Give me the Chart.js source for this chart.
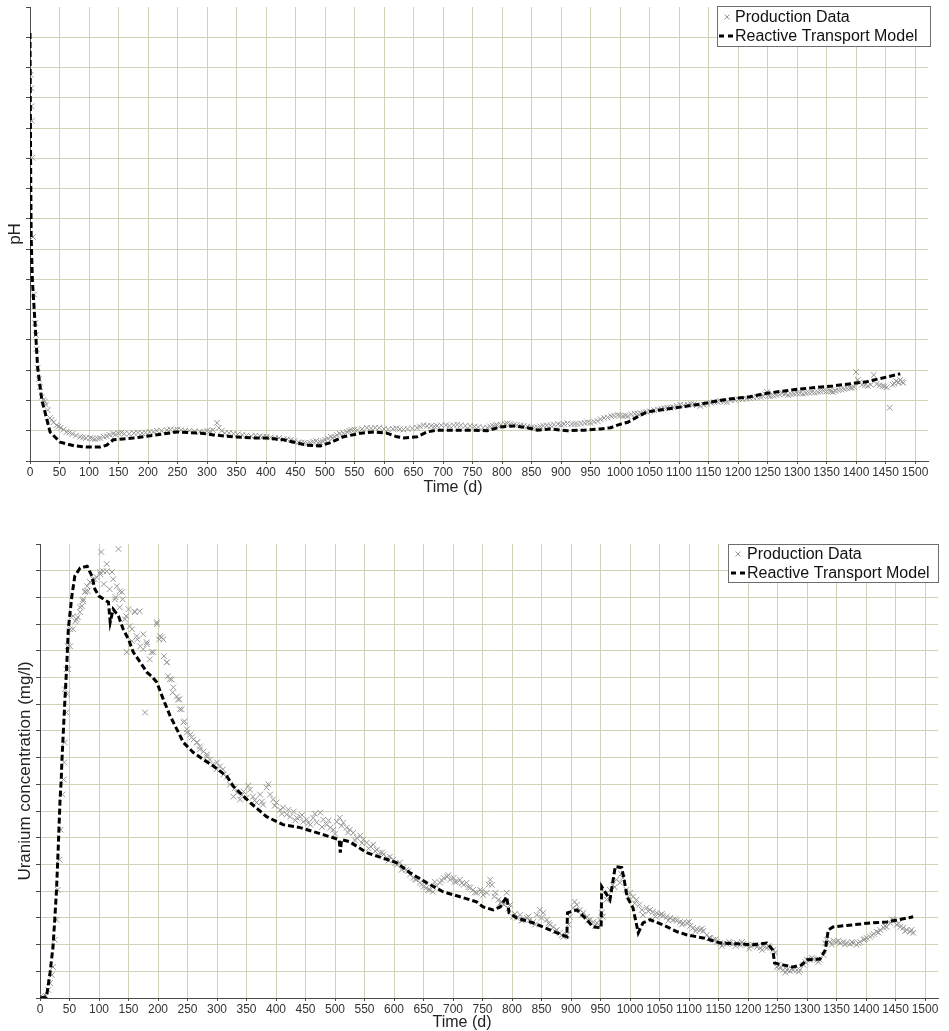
<!DOCTYPE html>
<html><head><meta charset="utf-8">
<script src="https://cdn.jsdelivr.net/npm/chart.js@4.4.1/dist/chart.umd.min.js"></script>
<style>body{margin:0;background:#fff;} canvas{display:block;}</style>
</head><body>
<canvas id="ph" width="949" height="500"></canvas>
<canvas id="u" width="949" height="531"></canvas>
<script>
// ---------- pH chart data ----------
const phModelTime = [0,1,2,4,8.5,13,20,34,51,75,97,119,130,141,175,198,249,290,311,345,379,401,430,469,492,508,531,561,583,605,622,634,656,673,690,718,746,775,797,820,843,860,882,911,939,967,984,1001,1013,1045,1102,1136,1181,1220,1249,1305,1361,1418,1475];
const phModelValue = [8.07,5.97,4.70,3.99,3.28,2.54,2.01,1.48,1.31,1.25,1.23,1.23,1.26,1.35,1.38,1.41,1.48,1.46,1.43,1.40,1.38,1.38,1.35,1.26,1.25,1.30,1.40,1.46,1.48,1.46,1.40,1.38,1.40,1.48,1.51,1.51,1.51,1.50,1.56,1.58,1.55,1.51,1.53,1.50,1.51,1.53,1.55,1.61,1.64,1.81,1.89,1.94,2.02,2.06,2.12,2.19,2.24,2.31,2.44];
const phDataTime = [1,2,2.5,3,4,5,9,10,13,17,20,23,27,30,34,40,45,52,62,72,85,95,102,110,119,130,141,150,160,176,190,203,215,232,245,256,270,288,300,310,317,320,330,345,360,375,390,401,415,430,442,455,465,475,485,492,500,510,516,525,537,545,555,571,585,600,615,627,640,656,667,680,690,705,718,730,746,760,775,785,792,805,814,825,837,850,860,870,882,895,905,918,928,940,950,962,973,985,996,1005,1013,1025,1035,1045,1058,1070,1080,1090,1102,1115,1125,1136,1148,1160,1170,1181,1195,1208,1220,1232,1243,1249,1255,1265,1275,1285,1295,1305,1315,1325,1335,1345,1355,1361,1370,1380,1390,1397,1400,1403,1410,1420,1430,1435,1445,1452,1457,1462,1468,1475,1480];
const phDataValue = [7.38,7.16,6.86,6.62,6.01,4.70,3.28,3.08,2.54,2.22,2.06,2.01,1.93,1.84,1.71,1.64,1.59,1.55,1.48,1.45,1.40,1.38,1.38,1.36,1.38,1.41,1.45,1.46,1.45,1.46,1.46,1.48,1.50,1.51,1.51,1.51,1.50,1.48,1.50,1.51,1.63,1.55,1.46,1.45,1.43,1.41,1.41,1.40,1.38,1.36,1.35,1.31,1.30,1.30,1.33,1.31,1.35,1.40,1.40,1.45,1.48,1.51,1.51,1.55,1.55,1.53,1.53,1.53,1.53,1.55,1.59,1.58,1.58,1.59,1.59,1.59,1.58,1.56,1.55,1.58,1.59,1.61,1.61,1.59,1.58,1.56,1.55,1.58,1.59,1.61,1.61,1.61,1.61,1.63,1.63,1.66,1.71,1.74,1.76,1.74,1.74,1.78,1.79,1.81,1.84,1.86,1.88,1.89,1.93,1.93,1.94,1.91,1.94,1.97,1.99,1.97,2.01,2.02,2.04,2.06,2.07,2.14,2.07,2.09,2.12,2.09,2.11,2.12,2.12,2.14,2.14,2.16,2.16,2.14,2.17,2.19,2.21,2.22,2.47,2.34,2.26,2.24,2.42,2.27,2.24,2.22,1.88,2.26,2.32,2.34,2.29];
// second reading pass across the production-data band
const phDataTimeB = [7,11,15,25,37,48,57,67,78,90,106,115,125,135,145,155,168,183,196,209,223,238,250,263,279,294,305,325,337,352,367,382,395,408,422,436,448,460,470,480,488,496,505,513,520,531,541,550,563,578,592,607,621,633,648,661,673,685,697,711,724,738,753,768,780,789,798,809,820,831,843,855,865,876,888,900,911,923,934,945,956,967,979,990,1000,1009,1019,1030,1040,1051,1064,1075,1085,1096,1108,1120,1130,1142,1154,1165,1176,1188,1201,1214,1226,1238,1246,1252,1260,1270,1280,1290,1300,1310,1320,1330,1340,1350,1358,1365,1375,1385,1393,1406,1415,1425,1440,1448,1465,1472,1478];
const phDataValueB = [3.75,2.85,2.35,1.98,1.68,1.57,1.52,1.47,1.42,1.39,1.37,1.37,1.40,1.43,1.44,1.47,1.45,1.47,1.47,1.48,1.50,1.52,1.52,1.50,1.49,1.48,1.49,1.50,1.46,1.44,1.42,1.42,1.40,1.39,1.38,1.36,1.33,1.30,1.29,1.32,1.30,1.33,1.37,1.38,1.43,1.46,1.50,1.52,1.53,1.54,1.55,1.52,1.54,1.52,1.54,1.57,1.58,1.57,1.59,1.58,1.60,1.58,1.57,1.55,1.57,1.59,1.60,1.62,1.60,1.59,1.57,1.55,1.57,1.59,1.60,1.60,1.62,1.61,1.62,1.64,1.65,1.69,1.72,1.75,1.75,1.75,1.77,1.78,1.80,1.82,1.85,1.87,1.88,1.91,1.92,1.94,1.92,1.93,1.96,1.98,1.98,2.00,2.02,2.03,2.05,2.06,2.10,2.08,2.08,2.10,2.11,2.10,2.12,2.11,2.13,2.13,2.15,2.15,2.15,2.16,2.18,2.20,2.21,2.30,2.25,2.26,2.25,2.23,2.28,2.30,2.31];

// ---------- Uranium chart data ----------
const uModelTime = [0,10,12,17,22,25,28,31,34,36,37,42,45,48,54,59,68,80,88,93,100,108,116,119,124,133,141,150,158,170,181,189,198,209,221,232,243,260,277,295,317,328,356,384,412,441,469,497,507,509,511,525,554,604,627,655,683,712,740,751,768,780,791,795,808,836,864,893,894,910,927,937,951,952,966,975,986,990,995,1005,1014,1022,1034,1056,1080,1097,1124,1153,1181,1208,1232,1242,1245,1259,1276,1291,1300,1322,1331,1336,1344,1378,1407,1436,1480];
const uModelValue = [0,0.4,1.9,9.4,19.1,29.3,40.5,56.7,74.3,81.8,88.2,110.7,123.1,138.1,150.5,158.0,161.0,161.7,158.0,153.1,150.5,149.3,148.2,140.7,145.6,143.0,138.1,134.3,129.5,125.7,122.0,120.5,118.2,111.8,105.4,100.6,95.7,91.9,89.3,86.7,82.9,79.2,73.2,67.9,64.9,63.8,61.9,60.0,59.3,54.4,59.3,58.5,54.4,50.7,46.9,43.2,39.8,37.9,36.0,34.1,33.0,34.1,37.9,31.9,30.0,28.1,25.5,22.9,31.9,33.0,29.3,26.6,26.3,41.7,36.8,49.2,48.8,44.3,37.9,33.8,24.4,28.1,29.3,27.4,24.8,23.6,22.5,20.6,20.3,19.9,20.6,18.0,13.1,12.4,11.6,12.4,14.3,14.6,18.0,25.5,26.6,27.4,28.1,28.5,30.4];
const uDataTime = [0,5,10,14,17,20,22,25,28,30,33,35,38,40,41,42,45,46,48,51,56,60,64,68,73,77,80,85,90,96,102,104,108,113,118,124,128,133,135,140,146,150,156,160,165,170,175,178,181,186,192,198,202,206,210,215,220,226,232,236,240,245,249,255,260,266,271,277,283,288,293,299,305,311,317,322,328,334,339,345,350,356,361,367,373,378,384,390,395,401,407,412,418,424,430,435,441,446,452,458,463,469,475,480,486,492,497,503,508,514,520,525,531,537,543,548,554,560,565,571,576,582,588,593,599,605,610,616,621,627,633,638,644,650,655,661,666,672,678,684,690,695,701,706,712,718,723,729,734,740,746,751,757,763,766,772,777,780,786,791,797,802,808,814,819,825,830,836,842,847,853,859,864,870,876,881,887,893,898,904,910,915,921,927,932,938,944,949,954,960,966,971,977,983,988,994,1000,1005,1011,1016,1022,1028,1034,1039,1045,1051,1056,1062,1068,1073,1079,1085,1090,1096,1102,1107,1113,1119,1124,1130,1136,1141,1147,1153,1158,1164,1170,1175,1181,1187,1192,1198,1204,1209,1215,1221,1226,1232,1237,1243,1249,1254,1260,1266,1271,1277,1283,1288,1294,1300,1305,1311,1317,1322,1328,1333,1339,1345,1350,1356,1362,1367,1373,1378,1384,1390,1396,1401,1407,1413,1418,1424,1430,1435,1441,1446,1452,1458,1463,1469,1475,1480];
const uDataValue = [0.4,0.4,0.8,3.0,5.6,8.6,11.6,21.8,29.3,40.5,51.8,63.0,76.2,81.8,88.2,95.7,106.9,113.7,123.1,131.7,138.1,141.1,142.6,146.3,149.3,152.3,154.2,155.7,156.8,157.6,158.7,167.0,155.0,159.8,153.1,156.8,150.1,168.1,152.3,149.3,143.0,145.6,138.1,144.8,134.3,131.7,136.2,106.9,132.5,126.8,129.5,140.0,134.3,135.1,128.0,125.7,119.3,116.3,112.9,111.8,108.1,103.6,100.6,98.7,96.8,95.7,94.2,92.3,91.2,89.3,87.4,85.6,86.7,83.7,82.9,79.9,75.4,76.9,74.3,77.3,75.0,78.0,75.4,73.2,76.2,72.4,78.8,76.2,74.3,73.2,70.5,71.3,68.7,67.9,69.8,67.5,67.9,66.0,66.8,64.9,67.5,65.7,69.4,66.8,64.9,63.8,63.0,66.0,67.5,65.7,63.8,63.0,61.9,60.0,60.8,59.3,58.2,56.7,57.4,55.5,54.4,53.7,52.5,52.9,51.8,49.9,50.7,48.8,48.0,46.2,45.0,44.3,43.2,41.7,41.3,40.5,39.8,42.0,43.2,45.0,45.4,44.3,45.0,43.5,44.3,42.4,43.2,41.3,40.5,39.4,40.5,38.6,39.4,44.3,42.4,39.4,36.8,35.6,34.9,39.4,34.9,30.4,30.0,31.1,29.3,30.0,29.3,28.5,31.1,33.0,31.9,29.3,27.4,26.6,25.5,24.4,22.9,23.6,30.4,33.8,34.9,33.0,31.9,30.4,29.3,28.5,28.1,29.3,30.4,36.8,40.5,42.4,44.3,43.2,45.0,40.5,39.4,37.9,36.8,34.9,31.1,33.8,33.0,32.3,31.9,31.1,30.8,30.4,30.0,29.3,28.9,28.5,28.1,28.1,27.0,26.3,25.9,25.5,25.1,23.6,22.5,21.8,21.0,20.6,20.3,20.3,20.6,20.3,20.6,19.9,20.3,19.9,19.5,19.9,19.1,18.8,19.5,18.8,18.8,18.0,11.6,11.3,10.5,10.5,10.1,10.5,10.5,10.5,12.4,14.3,14.3,14.6,14.3,14.3,16.1,21.8,21.0,21.4,21.0,20.6,21.0,20.6,20.3,20.6,19.9,21.0,21.8,22.5,22.9,24.0,24.8,25.5,26.3,26.6,28.1,29.3,27.4,26.6,26.3,25.5,24.8,24.4];
// scattered readings around the peak
const uDataTimeB = [68,62,73,85,76,93,102,113,107,122,130,127,135,139,144,152,161,164,175,181,189,198,203,209,215,217,223,225,234,237,243,249,257,266,271,283,300,310,147,169,156,56,51,47,45,42,71,81];
const uDataValueB = [144.5,141.8,148.6,155.7,152.0,156.8,159.5,162.5,159.8,159.5,154.2,149.3,146.3,152.0,141.8,139.2,144.5,135.5,130.6,133.2,129.5,140.7,135.5,134.3,125.7,120.5,119.3,114.4,111.8,108.1,103.2,99.4,97.6,95.7,93.1,90.4,88.2,85.6,129.5,144.8,133.6,143.0,138.1,131.7,123.1,115.6,146.7,152.3];
// second reading pass across the tail of the band
const uDataTimeC = [330,342,353,364,376,387,398,410,421,433,444,455,466,478,489,500,511,522,534,546,557,568,580,591,602,613,624,636,647,658,669,681,692,703,715,726,737,749,760,770,783,794,805,816,828,839,850,862,873,884,896,906,918,929,941,952,963,974,985,997,1008,1020,1031,1043,1054,1065,1077,1088,1100,1111,1122,1134,1145,1156,1168,1179,1190,1202,1213,1224,1235,1246,1252,1263,1274,1286,1297,1308,1319,1331,1342,1353,1364,1376,1387,1398,1410,1421,1432,1444,1455,1466,1477];
const uDataValueC = [78.5,76.0,79.5,74.0,73.5,80.0,72.0,69.0,70.5,66.5,68.5,65.5,69.0,64.0,66.5,61.5,64.5,62.0,59.0,58.0,56.0,55.0,54.5,51.5,50.5,48.0,47.5,44.5,42.5,40.5,43.5,44.0,46.0,43.5,43.0,41.5,39.5,40.0,42.5,38.0,36.0,33.5,31.5,29.0,30.5,27.5,30.0,28.0,25.0,23.5,27.5,36.0,31.0,29.0,27.0,32.0,38.5,41.5,46.5,38.0,35.5,33.0,32.5,30.5,31.5,29.0,29.5,27.5,28.5,25.0,26.0,22.5,22.0,19.5,21.0,19.5,21.0,18.5,20.0,18.0,19.5,17.0,12.5,9.5,11.0,9.8,13.5,15.0,13.5,20.5,20.0,21.5,20.0,21.0,20.5,22.0,23.5,24.5,27.0,29.5,28.0,25.0,25.5];

const seriesLabels = ['Production Data', 'Reactive Transport Model'];
const timeTitle = 'Time (d)';

// ---------- styling ----------
const FONT = "'Liberation Sans', Arial, sans-serif";
const GRID = 'rgb(210,210,182)';
const AXIS = '#4a4a4a';
const DATA_COLOR = '#969696';

function pairs(ts, vs) { return ts.map((t, i) => ({x: t, y: vs[i]})); }

function boxLegend(L) {
  return {
    id: 'boxLegend',
    afterDraw(chart) {
      const ctx = chart.ctx;
      ctx.save();
      ctx.fillStyle = '#fff';
      ctx.fillRect(L.x, L.y, L.w, L.h);
      ctx.strokeStyle = '#6e6e6e';
      ctx.lineWidth = 1;
      ctx.strokeRect(L.x + 0.5, L.y + 0.5, L.w - 1, L.h - 1);
      ctx.strokeStyle = DATA_COLOR;
      ctx.beginPath();
      const r = 2.5, cx = L.marker, cy = L.row1;
      ctx.moveTo(cx - r, cy - r); ctx.lineTo(cx + r, cy + r);
      ctx.moveTo(cx - r, cy + r); ctx.lineTo(cx + r, cy - r);
      ctx.stroke();
      ctx.strokeStyle = '#000';
      ctx.lineWidth = 3;
      ctx.beginPath();
      ctx.moveTo(L.dashX0, L.row2); ctx.lineTo(L.dashX0 + 5, L.row2);
      ctx.moveTo(L.dashX0 + 9, L.row2); ctx.lineTo(L.dashX0 + 14, L.row2);
      ctx.stroke();
      ctx.fillStyle = '#111';
      ctx.font = '16px ' + FONT;
      ctx.textBaseline = 'middle';
      ctx.textAlign = 'left';
      const ds = chart.data.datasets;
      ctx.fillText(ds[1].label, L.textX, L.row1 + 1);
      ctx.fillText(ds[0].label, L.textX, L.row2 + 1);
      ctx.fillStyle = '#222';
      ctx.textAlign = 'center';
      ctx.fillText(timeTitle, L.xTitleX, L.xTitleY);
      ctx.restore();
    }
  };
}

function makeChart(id, c) {
  return new Chart(document.getElementById(id), {
    type: 'scatter',
    data: {
      datasets: [
        {
          label: seriesLabels[1],
          data: pairs(c.modelT, c.modelV),
          showLine: true,
          borderColor: '#000',
          borderWidth: 3,
          borderDash: [6, 3],
          pointRadius: 0,
          tension: 0,
          fill: false
        },
        {
          label: seriesLabels[0],
          data: c.dataSets.flatMap(([t, v]) => pairs(t, v)),
          showLine: false,
          pointStyle: 'crossRot',
          pointRadius: 4,
          borderColor: DATA_COLOR,
          backgroundColor: DATA_COLOR,
          borderWidth: 1
        }
      ]
    },
    options: {
      responsive: false,
      animation: false,
      devicePixelRatio: 1,
      layout: {padding: {top: c.padTop, right: c.padRight, left: 0, bottom: 0}},
      plugins: {legend: {display: false}, tooltip: {enabled: false}},
      scales: {
        x: {
          type: 'linear',
          min: 0, max: 1522,
          ticks: {
            stepSize: 50, autoSkip: false, includeBounds: false, maxRotation: 0,
            callback: (v) => String(v),
            font: {family: FONT, size: 12}, color: '#333', padding: 1
          },
          grid: {color: GRID, tickColor: AXIS, tickLength: 3, lineWidth: 1},
          border: {display: true, color: AXIS, width: 1},
          afterFit(s) { s.height = c.xHeight; s.paddingLeft = 0; s.paddingRight = 0; }
        },
        y: {
          type: 'linear',
          min: c.yMin, max: c.yMax,
          ticks: {stepSize: c.yStep, display: false},
          grid: {
            color: (ctx) => (ctx.tick && Math.abs(ctx.tick.value - c.yMax) < 1e-9) ? 'rgba(0,0,0,0)' : GRID,
            tickColor: AXIS, tickLength: 4, lineWidth: 1
          },
          border: {display: true, color: AXIS, width: 1},
          title: {display: true, text: c.yTitle, color: '#222', font: {family: FONT, size: 17}, padding: {top: c.yTitlePad, bottom: 0}},
          afterFit(s) { s.width = c.yWidth; s.paddingTop = 0; s.paddingBottom = 0; }
        }
      }
    },
    plugins: [boxLegend(c.legend)]
  });
}

makeChart('ph', {
  modelT: phModelTime, modelV: phModelValue,
  dataSets: [[phDataTime, phDataValue], [phDataTimeB, phDataValueB]],
  padTop: 7, padRight: 21, yWidth: 30, xHeight: 39,
  yMin: 1, yMax: 8.5, yStep: 0.5, yTitle: 'pH', yTitlePad: 5,
  legend: {x: 717, y: 6, w: 214, h: 41, row1: 17, row2: 36, marker: 727, dashX0: 719, textX: 735, xTitleX: 453, xTitleY: 488}
});

makeChart('u', {
  modelT: uModelTime, modelV: uModelValue,
  dataSets: [[uDataTime, uDataValue], [uDataTimeB, uDataValueB], [uDataTimeC, uDataValueC]],
  padTop: 44, padRight: 11, yWidth: 40, xHeight: 33,
  yMin: 0, yMax: 170, yStep: 10, yTitle: 'Uranium concentration (mg/l)', yTitlePad: 15,
  legend: {x: 728, y: 44, w: 211, h: 39, row1: 54, row2: 73, marker: 738, dashX0: 731, textX: 747, xTitleX: 462, xTitleY: 523}
});
</script>
</body></html>
